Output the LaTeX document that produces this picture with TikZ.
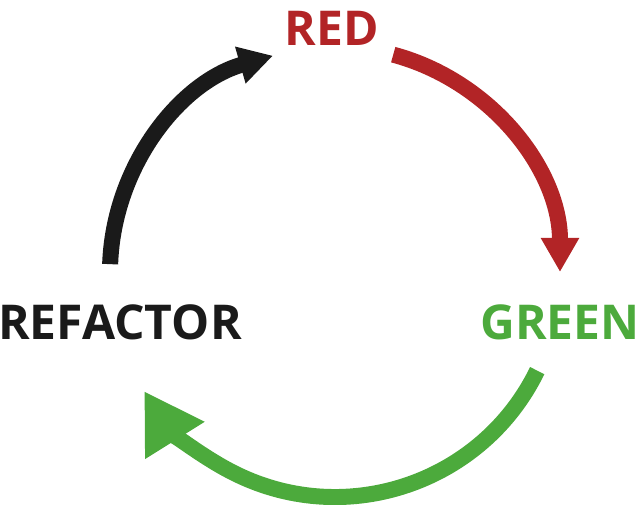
\documentclass[tikz,border=0pt]{standalone}
\usepackage{fontspec}
\setmainfont{Open Sans}
\usetikzlibrary{arrows.meta}
\definecolor{tddred}{RGB}{178,36,38}
\definecolor{tddgreen}{RGB}{76,170,60}
\definecolor{tddblack}{RGB}{26,26,26}
\tikzset{
  lbl/.style={font=\fontsize{48}{48}\selectfont\bfseries, inner sep=0pt},
  arcline/.style={line width=16pt},
}
\begin{document}
\begin{tikzpicture}[x=1pt,y=1pt]
\useasboundingbox (0,0) rectangle (640,505);
\coordinate (c) at (335,233);
\node[lbl, text=tddred] (red) at (332,477) {RED};
\node[lbl, text=tddgreen] (green) at (560,183) {GREEN};
\node[lbl, text=tddblack] (refactor) at (120,183) {REFACTOR};
\draw[arcline, tddred, -{Triangle[width=36pt,length=34pt]}] ([shift={(75:225)}]c) arc[start angle=75, end angle=0, radius=225];
\draw[arcline, tddgreen, -{Triangle[width=66pt,length=58pt]}] ([shift={(-26:225)}]c) arc[start angle=-26, end angle=-148, radius=225];
\draw[arcline, tddblack, -{Triangle[width=36pt,length=34pt]}] ([shift={(178:225)}]c) arc[start angle=178, end angle=106, radius=225];
\end{tikzpicture}
\end{document}
